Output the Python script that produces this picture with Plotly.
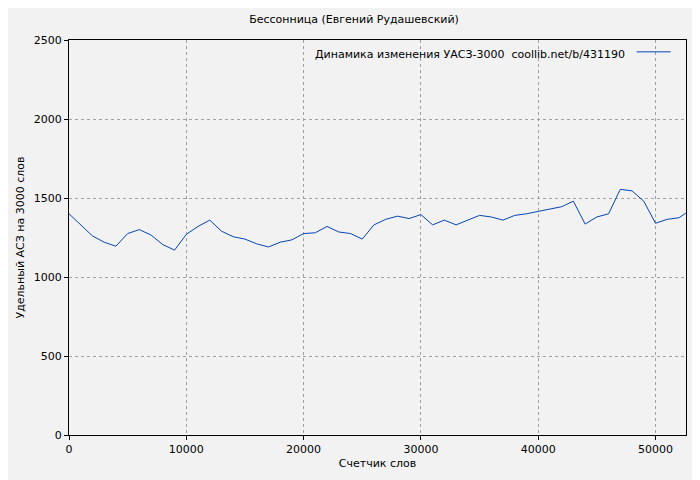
import plotly.graph_objects as go

# word counter (x) and UASZ per 3000 words (y)
words = [0, 1000, 2000, 3000, 4000, 5000, 6000, 7000, 8000, 9000,
         10000, 11000, 12000, 13000, 14000, 15000, 16000, 17000, 18000, 19000,
         20000, 21000, 22000, 23000, 24000, 25000, 26000, 27000, 28000, 29000,
         30000, 31000, 32000, 33000, 34000, 35000, 36000, 37000, 38000, 39000,
         40000, 41000, 42000, 43000, 44000, 45000, 46000, 47000, 48000, 49000,
         50000, 51000, 52000, 52600]
uasz = [1400, 1330, 1260, 1220, 1195, 1275, 1300, 1265, 1205, 1170,
        1270, 1320, 1360, 1290, 1255, 1240, 1210, 1190, 1220, 1235,
        1275, 1280, 1320, 1285, 1275, 1240, 1330, 1365, 1385, 1370,
        1395, 1330, 1360, 1330, 1360, 1390, 1380, 1360, 1390, 1400,
        1415, 1430, 1445, 1480, 1335, 1380, 1400, 1555, 1545, 1480,
        1340, 1365, 1375, 1405]

title = 'Бессонница (Евгений Рудашевский)'
legend_text = 'Динамика изменения УАСЗ-3000  coollib.net/b/431190'

fig = go.Figure()
fig.add_trace(go.Scatter(x=words, y=uasz, mode='lines',
                         line=dict(color='#0645b4', width=1), showlegend=False))

# page body adds an 8px offset, so the figure is a bit smaller than the window
fig.update_layout(
    width=692, height=472,
    margin=dict(l=60, r=14, t=32, b=38),
    paper_bgcolor='#f2f2f2', plot_bgcolor='#f2f2f2',
    font=dict(family='DejaVu Sans', size=11, color='black'),
    title=dict(text=title, x=0.5, xanchor='center', y=0.985, yanchor='top',
               font=dict(size=11)),
)

grid = dict(showgrid=True, gridcolor='#a0a0a0', griddash='dot', gridwidth=1,
            showline=True, linecolor='black', linewidth=1, mirror=True,
            ticks='outside', ticklen=4, tickcolor='black', zeroline=False,
            tickformat='d', title_font=dict(size=11))
fig.update_xaxes(range=[0, 52600], dtick=10000, title_text='Счетчик слов',
                 title_standoff=4, **grid)
fig.update_yaxes(range=[0, 2500], dtick=500, title_text='Удельный АСЗ на 3000 слов',
                 title_standoff=6, **grid)

# legend drawn by hand: text with a line sample to its right
fig.add_annotation(x=0.905, y=0.985, xref='paper', yref='paper', text=legend_text,
                   showarrow=False, xanchor='right', yanchor='top', font=dict(size=11))
fig.add_shape(type='line', xref='paper', yref='paper', x0=0.92, x1=0.975,
              y0=0.97, y1=0.97, line=dict(color='#0645b4', width=1))

fig.write_html('out.html')
